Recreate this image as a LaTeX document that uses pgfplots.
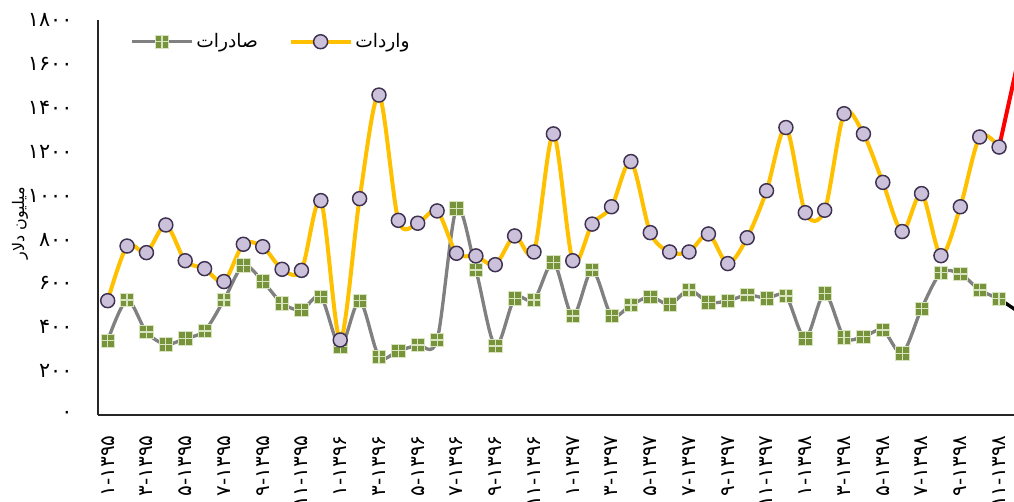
\documentclass[border=0pt]{standalone}
\usepackage{pgfplots}
\pgfplotsset{compat=1.18}
\usepackage{fontspec}
\setmainfont{DejaVu Sans}
\newfontfamily\fa[Script=Arabic]{DejaVu Sans}
\TeXXeTstate=1
\definecolor{impline}{HTML}{FFC000}
\definecolor{impfill}{HTML}{CCC1DA}
\definecolor{impedge}{HTML}{3F3151}
\definecolor{expline}{HTML}{808080}
\definecolor{expfill}{HTML}{77933C}
\definecolor{explight}{HTML}{D7E4BD}
\pgfdeclareplotmark{sqplus}{%
  \pgfpathrectangle{\pgfpoint{-\pgfplotmarksize}{-\pgfplotmarksize}}{\pgfpoint{2\pgfplotmarksize}{2\pgfplotmarksize}}%
  \pgfsetfillcolor{expfill}\pgfsetstrokecolor{explight}\pgfsetlinewidth{0.5pt}\pgfusepath{fill,stroke}%
  \pgfpathmoveto{\pgfpoint{-\pgfplotmarksize}{0pt}}\pgfpathlineto{\pgfpoint{\pgfplotmarksize}{0pt}}%
  \pgfpathmoveto{\pgfpoint{0pt}{-\pgfplotmarksize}}\pgfpathlineto{\pgfpoint{0pt}{\pgfplotmarksize}}%
  \pgfsetlinewidth{0.9pt}\pgfusepath{stroke}}
\begin{document}
\begin{tikzpicture}
\begin{axis}[
  scale only axis,
  width=687pt, height=296.25pt,
  xmin=-0.5, xmax=46.77,
  ymin=0, ymax=1800,
  axis x line=bottom, axis y line=left,
  axis line style={-, line width=1.1pt, color=black!85},
  major tick length=0pt,
  ytick={0,200,...,1800},
  yticklabels={۰,۲۰۰,۴۰۰,۶۰۰,۸۰۰,۱۰۰۰,۱۲۰۰,۱۴۰۰,۱۶۰۰,۱۸۰۰},
  yticklabel style={anchor=east, inner sep=0pt, font=\fontsize{15.5}{17}\selectfont},
  yticklabel shift=19pt,
  xtick={0,2,...,46},
  xticklabels={۱-۱۳۹۵,۳-۱۳۹۵,۵-۱۳۹۵,۷-۱۳۹۵,۹-۱۳۹۵,۱۱-۱۳۹۵,
               ۱-۱۳۹۶,۳-۱۳۹۶,۵-۱۳۹۶,۷-۱۳۹۶,۹-۱۳۹۶,۱۱-۱۳۹۶,
               ۱-۱۳۹۷,۳-۱۳۹۷,۵-۱۳۹۷,۷-۱۳۹۷,۹-۱۳۹۷,۱۱-۱۳۹۷,
               ۱-۱۳۹۸,۳-۱۳۹۸,۵-۱۳۹۸,۷-۱۳۹۸,۹-۱۳۹۸,۱۱-۱۳۹۸},
  xticklabel style={rotate=90, anchor=east, inner sep=0pt, font=\fontsize{15}{17}\selectfont},
  xticklabel shift=15pt,
  ylabel={\fa\beginR میلیون دلار\endR},
  ylabel style={at={(rel axis cs:-0.0852,0.486)}, anchor=center, rotate=0, font=\fontsize{12}{14}\selectfont},
  legend columns=2,
  legend style={at={(rel axis cs:0.035,0.945)}, anchor=west, draw=none, fill=none,
    inner sep=0pt, font=\fontsize{14}{16}\selectfont,
    /tikz/every even column/.append style={column sep=21pt}},
  legend image code/.code={\draw[mark repeat=2,mark phase=2] plot coordinates {(0pt,0pt)(22.5pt,0pt)(45pt,0pt)};},
]
\addplot[expline, line width=2.5pt, smooth, mark=sqplus, mark size=5pt] coordinates {
(0,339)(1,524)(2,378)(3,322)(4,349)(5,383)(6,524)(7,682)(8,609)(9,509)
(10,479)(11,539)(12,311)(13,521)(14,266)(15,293)(16,319)(17,342)(18,942)(19,661)
(20,314)(21,532)(22,524)(23,696)(24,451)(25,661)(26,453)(27,501)(28,539)(29,504)
(30,570)(31,514)(32,520)(33,547)(34,532)(35,542)(36,349)(37,555)(38,354)(39,357)
(40,387)(41,281)(42,485)(43,649)(44,643)(45,570)(46,530)};
\addlegendentry{\fa\beginR صادرات\endR}
\addplot[black, line width=2.5pt, mark=square*, mark size=5pt, mark indices={2}, forget plot] coordinates {(46,530)(47,470)};
\addplot[red, line width=3pt, mark=*, mark size=5.25pt, mark options={fill=red, draw=red}, mark indices={2}, forget plot] coordinates {(46,1221)(47,1621)};
\addplot[impline, line width=3pt, smooth, mark=*, mark size=5.25pt, mark options={fill=impfill, draw=impedge, line width=1.1pt}] coordinates {
(0,521)(1,770)(2,740)(3,866)(4,703)(5,667)(6,608)(7,778)(8,767)(9,664)
(10,659)(11,977)(12,342)(13,986)(14,1458)(15,887)(16,874)(17,930)(18,737)(19,725)
(20,685)(21,816)(22,743)(23,1281)(24,703)(25,870)(26,949)(27,1155)(28,831)(29,743)
(30,743)(31,825)(32,690)(33,808)(34,1022)(35,1310)(36,922)(37,933)(38,1373)(39,1281)
(40,1060)(41,836)(42,1009)(43,726)(44,949)(45,1267)(46,1221)};
\addlegendentry{\fa\beginR واردات\endR}
\end{axis}
\pgfresetboundingbox
\useasboundingbox (-73.5pt,-64.5pt) rectangle (687pt,311.25pt);
\end{tikzpicture}
\end{document}
